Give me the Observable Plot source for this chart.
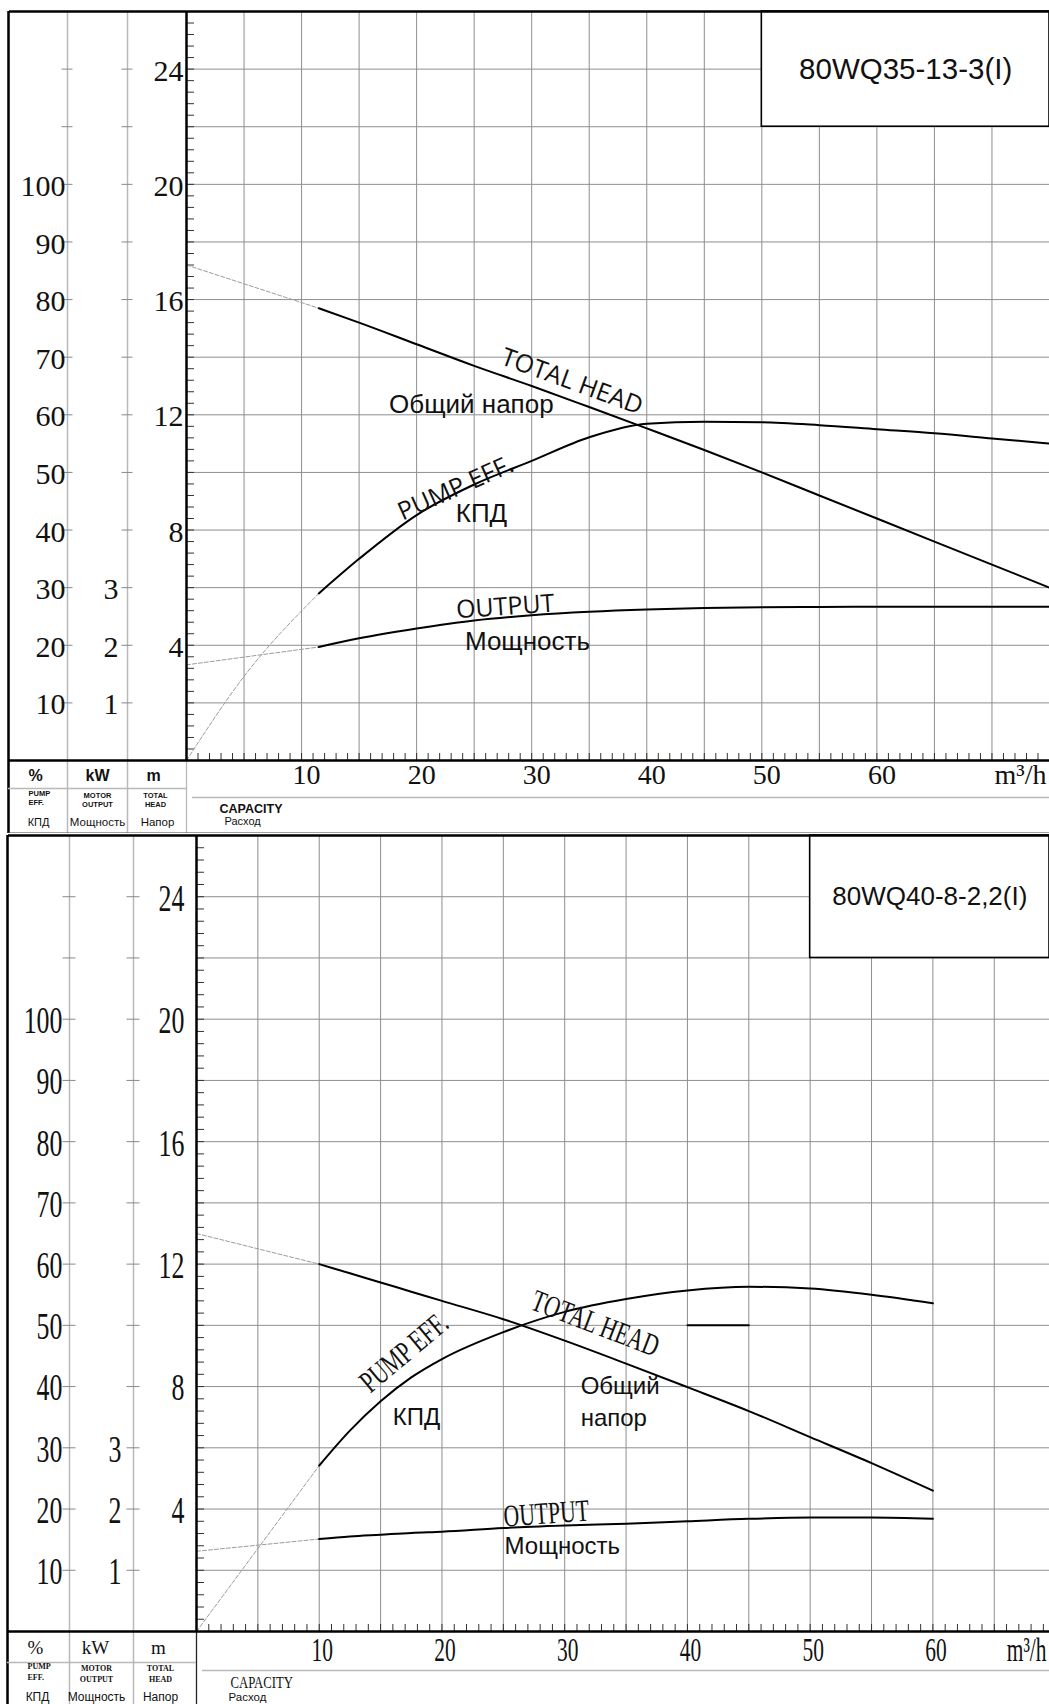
<!DOCTYPE html>
<html><head><meta charset="utf-8">
<script src="https://cdn.jsdelivr.net/npm/d3@7"></script>
<script src="https://cdn.jsdelivr.net/npm/@observablehq/plot@0.6"></script>
<style>
html,body{margin:0;padding:0;background:#fff;overflow:hidden}
#chart svg{display:block}
</style></head><body><div id="chart"></div>
<script>
// ---------- shared tick values ----------
const pctTicks = [10, 20, 30, 40, 50, 60, 70, 80, 90, 100];   // % (pump eff.)
const kwTicks = [1, 2, 3];                                      // kW (motor output)
const headTicks = [4, 8, 12, 16, 20, 24];                       // m (total head)
const flowTicks = [10, 20, 30, 40, 50, 60];                     // m3/h

// ---------- panel A : 80WQ35-13-3(I) ----------
const titleA = "80WQ35-13-3(I)";
const flowA  = [11.5, 15, 20, 25, 30, 35, 40, 45, 50, 55, 60, 65, 70, 75];
const headA  = [15.7, 15.2, 14.45, 13.7, 13.0, 12.27, 11.53, 10.78, 10.0, 9.2, 8.4, 7.6, 6.8, 6.0];
const effA   = [29.0, 35.0, 42.6, 47.9, 52.0, 56.1, 58.45, 58.8, 58.7, 58.2, 57.5, 56.8, 55.9, 55.0];
const powerA = [1.97, 2.12, 2.29, 2.43, 2.52, 2.58, 2.62, 2.645, 2.66, 2.665, 2.67, 2.67, 2.67, 2.67];
const extHeadFlowA = [0, 11.5], extHeadA = [17.2, 15.7];
const extEffFlowA = [0, 5, 11.5], extEffA = [0, 14.6, 29.0];
const extPowerFlowA = [0, 11.5], extPowerA = [1.66, 1.97];

// ---------- panel B : 80WQ40-8-2,2(I) ----------
const titleB = "80WQ40-8-2,2(I)";
const flowB  = [10, 12.5, 15, 17.5, 20, 25, 30, 35, 40, 45, 50, 55, 60];
const headB  = [12.0, 11.7, 11.4, 11.1, 10.8, 10.2, 9.5, 8.75, 7.98, 7.2, 6.35, 5.5, 4.6];
const effB   = [27.1, 32.8, 37.6, 41.5, 44.5, 48.9, 52.2, 54.3, 55.7, 56.3, 56.0, 55.0, 53.6];
const powerB = [1.51, 1.55, 1.58, 1.61, 1.63, 1.69, 1.73, 1.76, 1.80, 1.84, 1.86, 1.86, 1.84];
const extHeadFlowB = [0, 10], extHeadB = [13.0, 12.0];
const extEffFlowB = [0, 10], extEffB = [0, 27.1];
const extPowerFlowB = [0, 10], extPowerB = [1.31, 1.51];
const strayFlowB = [40, 45], strayHeadB = [10, 10];

const SERIF = "'Liberation Serif','Times New Roman',serif";
const SANS = "'Liberation Sans',Arial,sans-serif";
const OPEN = "'Open Sans','Liberation Sans',sans-serif";
const INK = "#111";
// condensed serif: a trailing marker family tells the post-processing step the horizontal squeeze
const serifC = s => (s ? `${SERIF},c${Math.round(s * 100)}` : SERIF);

function renderPanel(o) {
  const W = 1049, frameW = W - o.ml, frameH = o.height - o.mt - o.mb;
  const rel = px => px - o.ml;
  const G = "#8e8e8e", LG = "#b9b9b9";
  const d = o.data;
  const marks = [
    Plot.gridY(d3.range(2, 26, 2), {stroke: G, strokeOpacity: 1, strokeWidth: 1}),
    Plot.gridX(d3.range(5, o.xMax, 5), {stroke: G, strokeOpacity: 1, strokeWidth: 1}),
    // model box
    Plot.rect([o.box], {x1: "x1", x2: "x2", y1: "y1", y2: "y2", fill: "white", stroke: "black", strokeWidth: 1.6}),
    Plot.text([o.box], {x: b => (b.x1 + b.x2) / 2, y: b => (b.y1 + b.y2) / 2, text: () => d.title,
      fontFamily: SANS, fontSize: o.titleSize, fill: INK}),
    // left column lines
    ...o.cols.map(c => Plot.ruleX([0], {dx: rel(c), insetBottom: -o.mb, stroke: LG, strokeWidth: 1.5})),
    Plot.ruleX([0], {insetTop: frameH, insetBottom: -o.mb, stroke: o.footLeftStroke, strokeWidth: 1.3}),
    // column ticks
    ...o.cols.slice(1).map(c => Plot.axisY(d3.range(2, 25, 2), {anchor: "left", tickSize: o.colTick, dx: rel(c) + o.colTick / 2,
      tickFormat: () => "", label: null, stroke: "#888"})),
    // inner minor ticks
    Plot.axisY(d3.range(0, 26.001, 0.4), {anchor: "left", tickSize: 8, dx: 8, tickFormat: () => "", label: null, stroke: "#333"}),
    Plot.axisX(d3.range(1, o.xMax, 1), {anchor: "bottom", tickSize: 7, dy: -7, tickFormat: () => "", label: null, stroke: "#333"}),
    // y labels
    Plot.text(pctTicks, {y: v => v / 5, text: v => String(v), frameAnchor: "left", dx: o.pctDx, dy: o.ldy,
      textAnchor: "end", fontFamily: serifC(o.yScale), fontSize: o.yNumSize, fill: INK}),
    Plot.text(kwTicks, {y: v => v * 2, text: v => String(v), frameAnchor: "left", dx: o.kwDx, dy: o.ldy,
      textAnchor: "end", fontFamily: serifC(o.yScale), fontSize: o.yNumSize, fill: INK}),
    Plot.text(headTicks, {y: v => v, text: v => String(v), frameAnchor: "left", dx: o.mDx, dy: o.ldy,
      textAnchor: "end", fontFamily: serifC(o.yScale), fontSize: o.yNumSize, fill: INK}),
    // x labels
    Plot.text(flowTicks, {x: v => v, text: v => String(v), frameAnchor: "bottom", dx: o.xlDx, dy: o.xlDy,
      lineAnchor: "middle", fontFamily: serifC(o.xScale), fontSize: o.xNumSize, fill: INK}),
    Plot.text(["m³/h"], {frameAnchor: "bottom-right", dx: -3, dy: o.xlDy, textAnchor: "end", lineAnchor: "middle",
      fontFamily: serifC(o.xScale), fontSize: o.xNumSize, fill: INK}),
    // dashed extensions
    Plot.line(d.extHeadFlow, {x: v => v, y: (v, i) => d.extHead[i], stroke: "#9c9c9c", strokeWidth: 1, strokeDasharray: "4,2"}),
    Plot.line(d.extEffFlow, {x: v => v, y: (v, i) => d.extEff[i] / 5, curve: "monotone-x", stroke: "#9c9c9c", strokeWidth: 1, strokeDasharray: "4,2"}),
    Plot.line(d.extPowerFlow, {x: v => v, y: (v, i) => d.extPower[i] * 2, stroke: "#9c9c9c", strokeWidth: 1, strokeDasharray: "4,2"}),
    // curves
    Plot.line(d.flow, {x: v => v, y: (v, i) => d.head[i], curve: "monotone-x", stroke: "black", strokeWidth: 2}),
    Plot.line(d.flow, {x: v => v, y: (v, i) => d.eff[i] / 5, curve: "monotone-x", stroke: "black", strokeWidth: 2}),
    Plot.line(d.flow, {x: v => v, y: (v, i) => d.power[i] * 2, curve: "monotone-x", stroke: "black", strokeWidth: 2}),
  ];
  if (d.strayFlow) marks.push(Plot.line(d.strayFlow, {x: v => v, y: (v, i) => d.strayHead[i], stroke: "black", strokeWidth: 2}));
  // curve labels
  marks.push(Plot.text(o.enLabels, {x: "x", y: "y", text: "text", rotate: "rotate",
    fontFamily: o.enScale ? serifC(o.enScale) : o.enFont, fontSize: o.enSize, fill: INK}));
  marks.push(Plot.text(o.ruLabels, {x: "x", y: "y", text: "text", textAnchor: "start", lineHeight: 1.3, fontFamily: SANS,
    fontSize: o.ruSize, fill: INK}));
  // frame lines
  marks.push(
    Plot.ruleY([26], {insetLeft: rel(o.cols[0]) + 1, stroke: "black", strokeWidth: 2.5}),
    Plot.ruleY([0], {insetLeft: rel(o.cols[0]), stroke: "black", strokeWidth: 2.5}),
    Plot.ruleX([0], {stroke: "black", strokeWidth: 2.5}),
    Plot.ruleX([0], {dx: rel(o.cols[0]), insetBottom: -o.mb, stroke: "black", strokeWidth: 2.5}),
    Plot.ruleY([0], {dy: o.fl1, insetLeft: rel(o.cols[0]), insetRight: frameW, stroke: LG, strokeWidth: 1.5}),
    Plot.ruleY([0], {dy: o.fl2, insetLeft: 6, stroke: LG, strokeWidth: 1.5})
  );
  if (o.bottomLine) marks.push(Plot.ruleY([0], {dy: o.mb - 0.5, insetLeft: rel(o.cols[0]), stroke: "#444", strokeWidth: 1}));
  // footer texts
  for (const f of o.footer) {
    marks.push(Plot.text([f.t], {frameAnchor: "bottom-left", dx: f.dx, dy: f.dy, textAnchor: f.a || "middle",
      lineAnchor: "middle", fontFamily: f.s ? serifC(f.s) : f.font, fontSize: f.size, fontWeight: f.w || "normal", fill: INK}));
  }
  const svg = Plot.plot({
    width: W, height: o.height, marginTop: o.mt, marginBottom: o.mb, marginLeft: o.ml, marginRight: 0,
    x: {domain: [0, o.xMax], axis: null}, y: {domain: [0, 26], axis: null},
    style: {background: "white"},
    marks
  });
  // horizontal squeeze of the condensed serif texts
  d3.select(svg).selectAll("g[font-family]").each(function () {
    const m = /,c(\d+)$/.exec(this.getAttribute("font-family"));
    if (!m) return;
    const s = +m[1] / 100;
    d3.select(this).selectAll("text").each(function () {
      this.setAttribute("transform", (this.getAttribute("transform") || "") + ` scale(${s},1)`);
    });
  });
  return svg;
}

const footerA = [
  {t: "%", dx: -151, dy: 15, font: SANS, size: 16, w: "bold"},
  {t: "kW", dx: -89, dy: 15, font: SANS, size: 16, w: "bold"},
  {t: "m", dx: -33, dy: 15, font: SANS, size: 16, w: "bold"},
  {t: "PUMP", dx: -158, dy: 33, font: SANS, size: 7.5, w: "bold", a: "start"},
  {t: "EFF.", dx: -158, dy: 42, font: SANS, size: 7.5, w: "bold", a: "start"},
  {t: "MOTOR", dx: -89, dy: 35, font: SANS, size: 7.5, w: "bold"},
  {t: "OUTPUT", dx: -89, dy: 44, font: SANS, size: 7.5, w: "bold"},
  {t: "TOTAL", dx: -31, dy: 35, font: SANS, size: 7.5, w: "bold"},
  {t: "HEAD", dx: -31, dy: 44, font: SANS, size: 7.5, w: "bold"},
  {t: "КПД", dx: -148, dy: 62, font: SANS, size: 11},
  {t: "Мощность", dx: -89, dy: 62, font: SANS, size: 11.5},
  {t: "Напор", dx: -29, dy: 62, font: SANS, size: 11.5},
  {t: "CAPACITY", dx: 33, dy: 48, font: SANS, size: 12.5, w: "bold", a: "start"},
  {t: "Расход", dx: 38, dy: 61, font: SANS, size: 11, a: "start"}
];
const footerB = [
  {t: "%", dx: -161, dy: 16, font: SERIF, size: 19},
  {t: "kW", dx: -101, dy: 16, font: SERIF, size: 19},
  {t: "m", dx: -38, dy: 16, font: SERIF, size: 19},
  {t: "PUMP", dx: -169, dy: 35, font: SERIF, size: 8, w: "bold", a: "start"},
  {t: "EFF.", dx: -169, dy: 46, font: SERIF, size: 8, w: "bold", a: "start"},
  {t: "MOTOR", dx: -100, dy: 37, font: SERIF, size: 8, w: "bold"},
  {t: "OUTPUT", dx: -100, dy: 48, font: SERIF, size: 8, w: "bold"},
  {t: "TOTAL", dx: -36, dy: 37, font: SERIF, size: 8, w: "bold"},
  {t: "HEAD", dx: -36, dy: 48, font: SERIF, size: 8, w: "bold"},
  {t: "КПД", dx: -159, dy: 66, font: SANS, size: 12},
  {t: "Мощность", dx: -100, dy: 66, font: SANS, size: 12},
  {t: "Напор", dx: -36, dy: 66, font: SANS, size: 12},
  {t: "CAPACITY", dx: 34, dy: 51, font: SERIF, size: 17, a: "start", s: 0.75},
  {t: "Расход", dx: 32, dy: 66, font: SANS, size: 11.5, a: "start"}
];

const svgA = renderPanel({
  height: 833, mt: 11, mb: 73, ml: 186, xMax: 75, cols: [8, 67, 127], colTick: 11,
  pctDx: -121, kwDx: -68, mDx: -3, ldy: 2, yNumSize: 30, xNumSize: 28, xlDx: 5, xlDy: 15,
  titleSize: 29.5, box: {x1: 50, x2: 75, y1: 22, y2: 26}, footLeftStroke: "#b9b9b9",
  fl1: 28, fl2: 37, bottomLine: true,
  enFont: OPEN, enSize: 25, ruSize: 26,
  enLabels: [
    {text: "TOTAL HEAD", x: 33.5, y: 13.15, rotate: 20},
    {text: "PUMP EFF.", x: 23.4, y: 9.45, rotate: -24},
    {text: "OUTPUT", x: 27.7, y: 5.33, rotate: -4}
  ],
  ruLabels: [
    {text: "Общий напор", x: 17.6, y: 12.43},
    {text: "КПД", x: 23.4, y: 8.65},
    {text: "Мощность", x: 24.2, y: 4.2}
  ],
  footer: footerA,
  data: {title: titleA, flow: flowA, head: headA, eff: effA, power: powerA,
    extHeadFlow: extHeadFlowA, extHead: extHeadA, extEffFlow: extEffFlowA, extEff: extEffA,
    extPowerFlow: extPowerFlowA, extPower: extPowerA}
});

const svgB = renderPanel({
  height: 871, mt: 2, mb: 73, ml: 196, xMax: 69.5, cols: [7, 69, 133], colTick: 13,
  pctDx: -134, kwDx: -75, mDx: -12, ldy: 2, yNumSize: 37, xNumSize: 33, xlDx: 3, xlDy: 19,
  titleSize: 26, box: {x1: 50, x2: 69.5, y1: 22, y2: 26}, footLeftStroke: "#222",
  fl1: 31, fl2: 39, bottomLine: false, yScale: 0.7, xScale: 0.65,
  enFont: SERIF, enSize: 31, enScale: 0.7, ruSize: 24,
  enLabels: [
    {text: "TOTAL HEAD", x: 32.5, y: 10.06, rotate: 21},
    {text: "PUMP EFF.", x: 16.9, y: 9.11, rotate: -40},
    {text: "OUTPUT", x: 28.5, y: 3.85, rotate: -4}
  ],
  ruLabels: [
    {text: "Общий\nнапор", x: 31.3, y: 7.56},
    {text: "КПД", x: 16.0, y: 7.08},
    {text: "Мощность", x: 25.1, y: 2.87}
  ],
  footer: footerB,
  data: {title: titleB, flow: flowB, head: headB, eff: effB, power: powerB,
    extHeadFlow: extHeadFlowB, extHead: extHeadB, extEffFlow: extEffFlowB, extEff: extEffB,
    extPowerFlow: extPowerFlowB, extPower: extPowerB, strayFlow: strayFlowB, strayHead: strayHeadB}
});

document.getElementById("chart").append(svgA, svgB);
</script>
</body></html>
